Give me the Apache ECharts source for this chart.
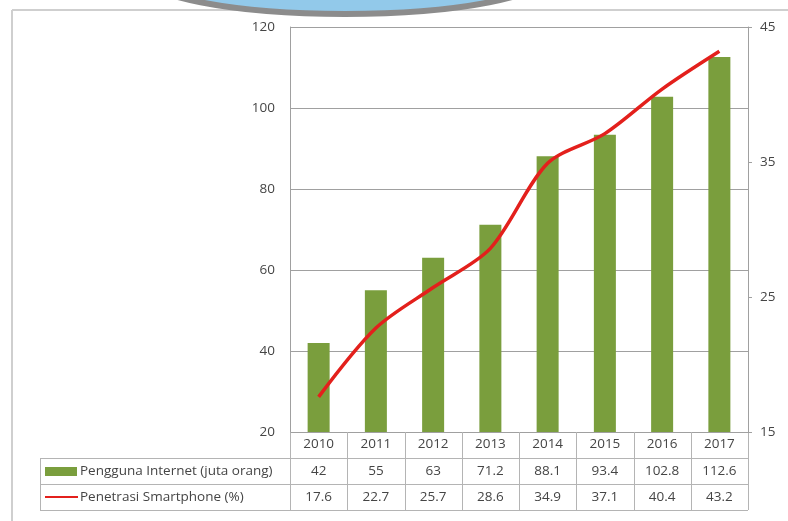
<!DOCTYPE html>
<html>
<head>
<meta charset="utf-8">
<script src="https://cdn.jsdelivr.net/npm/echarts@6/dist/echarts.min.js"></script>
<style>
  html, body { margin: 0; padding: 0; background: #fff; }
  #chart { width: 788px; height: 521px; }
</style>
</head>
<body>
<div id="chart"></div>
<script>
// data
const years = ['2010', '2011', '2012', '2013', '2014', '2015', '2016', '2017'];
const penggunaInternet = [42, 55, 63, 71.2, 88.1, 93.4, 102.8, 112.6];
const penetrasiSmartphone = [17.6, 22.7, 25.7, 28.6, 34.9, 37.1, 40.4, 43.2];
const seriesNames = ['Pengguna Internet (juta orang)', 'Penetrasi Smartphone (%)'];

const FONT = '"Open Sans", "Noto Sans", sans-serif';
const FS = 13.5;
const TEXT = '#454545';
const GRID_LINE = '#a0a0a0';
const TABLE_LINE = '#b4b4b4';
const GREEN = '#7a9e3d';
const RED = '#e3201c';

const chart = echarts.init(document.getElementById('chart'));

chart.setOption({
  animation: false,
  backgroundColor: '#fff',
  grid: { left: 290, right: 40, top: 27, bottom: 89 },
  xAxis: {
    type: 'category',
    data: years,
    axisLine: { show: false },
    axisTick: { show: false },
    axisLabel: { margin: 5, color: TEXT, fontFamily: FONT, fontSize: FS, interval: 0 }
  },
  yAxis: [
    {
      type: 'value',
      min: 20,
      max: 120,
      interval: 20,
      axisLine: { show: true, lineStyle: { color: GRID_LINE } },
      axisTick: { show: false },
      splitLine: { lineStyle: { color: GRID_LINE } },
      axisLabel: { margin: 15, color: TEXT, fontFamily: FONT, fontSize: FS }
    },
    {
      type: 'value',
      position: 'right',
      min: 15,
      max: 45,
      interval: 10,
      axisLine: { show: true, lineStyle: { color: GRID_LINE } },
      axisTick: { show: true, length: 4, lineStyle: { color: GRID_LINE } },
      splitLine: { show: false },
      axisLabel: { margin: 12, color: TEXT, fontFamily: FONT, fontSize: FS }
    }
  ],
  series: [
    {
      name: seriesNames[0],
      type: 'bar',
      yAxisIndex: 0,
      barWidth: 22,
      itemStyle: { color: GREEN },
      data: penggunaInternet
    },
    {
      name: seriesNames[1],
      type: 'line',
      yAxisIndex: 1,
      smooth: 0.3,
      symbol: 'none',
      lineStyle: { color: RED, width: 3.5 },
      z: 3,
      data: penetrasiSmartphone
    }
  ]
});

// data table under the plot, placed from the axis scales
function buildTable() {
  const cx = years.map((y, i) => chart.convertToPixel({ xAxisIndex: 0 }, i));
  const half = (cx[1] - cx[0]) / 2;
  const x0 = cx[0] - half;
  const x1 = cx[cx.length - 1] + half;
  const yBase = chart.convertToPixel({ yAxisIndex: 0 }, 20);
  const rowH = 26;
  const legendLeft = 40;
  const els = [];
  const line = (ax, ay, bx, by) => els.push({
    type: 'line', silent: true,
    shape: { x1: ax, y1: ay, x2: bx, y2: by },
    style: { stroke: TABLE_LINE, lineWidth: 1 }
  });

  // vertical column borders
  for (let i = 0; i <= years.length; i++) {
    const x = Math.round(x0 + i * half * 2) + 0.5;
    line(x, yBase, x, yBase + 3 * rowH);
  }
  line(legendLeft + 0.5, yBase + rowH, legendLeft + 0.5, yBase + 3 * rowH);
  for (let r = 1; r <= 3; r++) {
    const y = Math.round(yBase + r * rowH) + 0.5;
    line(legendLeft, y, x1, y);
  }

  const rows = [penggunaInternet, penetrasiSmartphone];
  rows.forEach((vals, r) => {
    const yc = yBase + (r + 1.5) * rowH;
    vals.forEach((v, i) => {
      els.push({
        type: 'text', silent: true,
        style: {
          text: String(v), x: cx[i], y: yc,
          align: 'center', verticalAlign: 'middle',
          fill: TEXT, font: FS + 'px ' + FONT
        }
      });
    });
    // legend key
    if (r === 0) {
      els.push({ type: 'rect', silent: true,
        shape: { x: 45, y: yc - 4, width: 32, height: 9 },
        style: { fill: GREEN } });
    } else {
      els.push({ type: 'line', silent: true,
        shape: { x1: 45, y1: yc, x2: 78, y2: yc },
        style: { stroke: RED, lineWidth: 2 } });
    }
    els.push({
      type: 'text', silent: true,
      style: {
        text: seriesNames[r], x: 80, y: yc,
        align: 'left', verticalAlign: 'middle',
        fill: TEXT, font: FS + 'px ' + FONT
      }
    });
  });

  // outer frame of the picture
  els.push({ type: 'line', silent: true,
    shape: { x1: 12, y1: 10, x2: 788, y2: 10 },
    style: { stroke: '#cfcfcf', lineWidth: 2 } });
  els.push({ type: 'line', silent: true,
    shape: { x1: 12, y1: 10, x2: 12, y2: 521 },
    style: { stroke: '#cfcfcf', lineWidth: 2 } });

  // cut-off decoration at the top edge
  els.push({ type: 'ellipse', silent: true, z: 10,
    shape: { cx: 345, cy: -26, rx: 204, ry: 40 },
    style: { fill: '#92c9ea', stroke: '#8c8c8c', lineWidth: 6 } });

  chart.setOption({ graphic: els });
}

buildTable();
</script>
</body>
</html>
